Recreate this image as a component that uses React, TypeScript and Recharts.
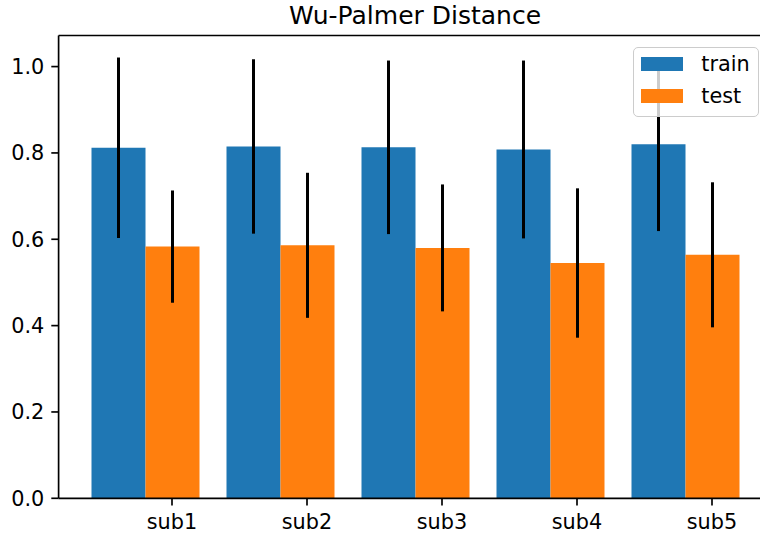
import React from 'react';
import { BarChart, Bar, XAxis, YAxis, ErrorBar, Legend, ReferenceLine } from 'recharts';

const categories = ['sub1', 'sub2', 'sub3', 'sub4', 'sub5'];
const seriesNames = ['train', 'test'];
const trainMean = [0.812, 0.815, 0.813, 0.808, 0.82];
const trainErr = [0.209, 0.202, 0.201, 0.206, 0.201];
const testMean = [0.583, 0.586, 0.58, 0.545, 0.564];
const testErr = [0.13, 0.168, 0.147, 0.173, 0.168];
const yTicks = [0, 0.2, 0.4, 0.6, 0.8, 1.0];
const yMax = 1.072;
const title = 'Wu-Palmer Distance';

const data = categories.map((c, i) => ({
  name: c,
  train: trainMean[i],
  trainErr: trainErr[i],
  test: testMean[i],
  testErr: testErr[i],
}));

const FONT = '"DejaVu Sans", Verdana, sans-serif';
const TICK_FS = 20.8;
const TICK_LEN = 7.3;
const SPINE_W = 1.67;
const BAR_SIZE = 54;
const CHART_W = 780;
const CHART_H = 537;
const MARGIN = { top: 35.5, right: 8.6, bottom: 0, left: 0 };
const Y_AXIS_W = 58.6;

const XTick = (props: any) => {
  const { x, y, payload } = props;
  const axisY = y - TICK_LEN;
  const cx = x + BAR_SIZE / 2;
  return (
    <g>
      <line x1={cx} x2={cx} y1={axisY} y2={axisY + TICK_LEN} stroke="black" strokeWidth={SPINE_W} />
      <text x={cx} y={axisY + 31} textAnchor="middle" fill="black" fontSize={TICK_FS} fontFamily={FONT}>
        {payload.value}
      </text>
    </g>
  );
};

const LegendContent = (props: any) => {
  const items = [...(props.payload || [])].sort(
    (a: any, b: any) => seriesNames.indexOf(a.value) - seriesNames.indexOf(b.value)
  );
  return (
    <div
      style={{
        position: 'relative',
        width: 126,
        height: 70.6,
        boxSizing: 'border-box',
        border: '1.6px solid #cccccc',
        borderRadius: 5,
        background: 'rgba(255,255,255,0.8)',
        fontFamily: FONT,
        fontSize: TICK_FS,
        color: 'black',
      }}
    >
      {items.map((p: any, i: number) => (
        <div key={p.value} style={{ position: 'absolute', left: 0, top: 0 }}>
          <div
            style={{
              position: 'absolute',
              left: 7.2,
              top: 9.1 + i * 32,
              width: 42,
              height: 14.4,
              background: p.color,
            }}
          />
          <div
            style={{
              position: 'absolute',
              left: 67,
              top: 16.3 + i * 32 - 13,
              height: 26,
              lineHeight: '26px',
              whiteSpace: 'nowrap',
            }}
          >
            {p.value}
          </div>
        </div>
      ))}
    </div>
  );
};

export default function App() {
  const plotLeft = MARGIN.left + Y_AXIS_W;
  const plotRight = CHART_W - MARGIN.right;
  return (
    <div
      style={{
        position: 'absolute',
        left: 0,
        top: 0,
        width: 760,
        height: 537,
        overflow: 'hidden',
        background: 'white',
      }}
    >
      <BarChart
        width={CHART_W}
        height={CHART_H}
        data={data}
        margin={MARGIN}
        barGap={0}
        barSize={BAR_SIZE}
      >
        <XAxis
          dataKey="name"
          height={38.7}
          tickLine={false}
          tickSize={TICK_LEN}
          tickMargin={0}
          axisLine={{ stroke: 'black', strokeWidth: SPINE_W }}
          tick={<XTick />}
          interval={0}
          padding={{ left: 18.9, right: 18.9 }}
        />
        <YAxis
          width={Y_AXIS_W}
          domain={[0, yMax]}
          ticks={yTicks}
          allowDataOverflow
          tickFormatter={(v: number) => v.toFixed(1)}
          tick={{ fill: 'black', fontSize: TICK_FS, fontFamily: FONT }}
          tickLine={{ stroke: 'black', strokeWidth: SPINE_W }}
          tickSize={TICK_LEN}
          tickMargin={7}
          axisLine={{ stroke: 'black', strokeWidth: SPINE_W }}
        />
        <Legend
          layout="horizontal"
          verticalAlign="middle"
          align="center"
          content={<LegendContent />}
          wrapperStyle={{ position: 'absolute', left: 633.3, top: 46.7, width: 126, height: 70.6 }}
        />
        <Bar dataKey="train" name="train" fill="#1f77b4" isAnimationActive={false}>
          <ErrorBar dataKey="trainErr" width={0} stroke="black" strokeWidth={3} direction="y" />
        </Bar>
        <Bar dataKey="test" name="test" fill="#ff7f0e" isAnimationActive={false}>
          <ErrorBar dataKey="testErr" width={0} stroke="black" strokeWidth={3} direction="y" />
        </Bar>
        <ReferenceLine y={yMax} stroke="black" strokeWidth={SPINE_W} ifOverflow="visible" />
      </BarChart>
      <svg
        width={760}
        height={36}
        style={{ position: 'absolute', left: 0, top: 0, pointerEvents: 'none' }}
      >
        <text
          x={(plotLeft + plotRight) / 2}
          y={24}
          textAnchor="middle"
          fontSize={25}
          fontFamily={FONT}
          fill="black"
        >
          {title}
        </text>
      </svg>
    </div>
  );
}
